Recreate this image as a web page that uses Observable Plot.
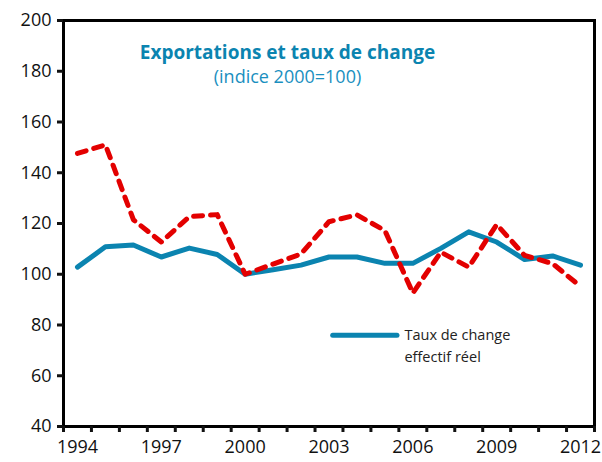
<!DOCTYPE html>
<html><head><meta charset="utf-8">
<script src="https://cdn.jsdelivr.net/npm/d3@7"></script>
<script src="https://cdn.jsdelivr.net/npm/@observablehq/plot@0.6"></script>
<style>
body{margin:0;background:#fff;}
#chart svg{display:block;}
</style>
</head><body>
<div id="chart"></div>
<script>
const years = [1994,1995,1996,1997,1998,1999,2000,2001,2002,2003,2004,2005,2006,2007,2008,2009,2010,2011,2012];
const tauxChange = [102.8,110.8,111.5,106.8,110.3,107.8,100,101.8,103.6,106.8,106.8,104.3,104.3,110.2,116.7,112.7,105.8,107.2,103.6];
const exportations = [147.6,151,121.5,112.7,122.7,123.5,100,104,108,120.7,123.4,117.2,92.6,108.7,102.8,119.6,107.4,104.2,95.2];
const xLabels = [1994,1997,2000,2003,2006,2009,2012];
const yTicks = [40,60,80,100,120,140,160,180,200];
const title = "Exportations et taux de change";
const subtitle = "(indice 2000=100)";
const legendLabel = ["Taux de change", "effectif réel"];

const blue = "#0b84b0";
const red = "#e30000";
const font = "Open Sans, Noto Sans, sans-serif";

const rowsBlue = years.map((y,i)=>({year:y, value:tauxChange[i]}));
const rowsRed = years.map((y,i)=>({year:y, value:exportations[i]}));
const boundaries = d3.range(years[0]-0.5, years[years.length-1]+1, 1);

const chart = Plot.plot({
  width: 602, height: 462,
  marginLeft: 63, marginRight: 8, marginTop: 20, marginBottom: 36,
  style: {fontFamily: font, fontSize: "18px", color: "#111", background: "#fff"},
  x: {domain: [years[0]-0.5, years[years.length-1]+0.5]},
  y: {domain: [40, 200]},
  marks: [
    Plot.frame({stroke:"#000", strokeWidth:3}),
    Plot.axisY({ticks: yTicks, tickSize: 6, tickPadding: 6, label: null, strokeWidth: 3, fontSize: 18}),
    Plot.axisX({ticks: boundaries, tickFormat: () => "", tickSize: 6, label: null, strokeWidth: 3}),
    Plot.axisX({ticks: xLabels, tickFormat: d => String(d), tickSize: 0, tickPadding: 14, label: null, fontSize: 18}),
    Plot.line(rowsBlue, {x:"year", y:"value", stroke: blue, strokeWidth: 5}),
    Plot.line(rowsRed, {x:"year", y:"value", stroke: red, strokeWidth: 5, strokeDasharray: "9,8", strokeLinecap: "round"}),
    Plot.text([title], {frameAnchor: "top-left", dx: 224, dy: 25, text: d=>d, fill: blue, fontWeight: "bold", fontSize: 19, textAnchor: "middle"}),
    Plot.text([subtitle], {frameAnchor: "top-left", dx: 224, dy: 50, text: d=>d, fill: "#1a8fc0", fontSize: 18, textAnchor: "middle"}),
    Plot.ruleY([0], {x1: 2003.15, x2: 2005.45, y: 76, stroke: blue, strokeWidth: 5, strokeLinecap: "round"}),
    Plot.text([legendLabel[0]], {x: 2005.7, y: 76, text: d=>d, textAnchor: "start", fontSize: 14.5, fill: "#222"}),
    Plot.text([legendLabel[1]], {x: 2005.7, y: 67.3, text: d=>d, textAnchor: "start", fontSize: 14.5, fill: "#222"})
  ]
});
document.getElementById("chart").appendChild(chart);
</script>
</body></html>
